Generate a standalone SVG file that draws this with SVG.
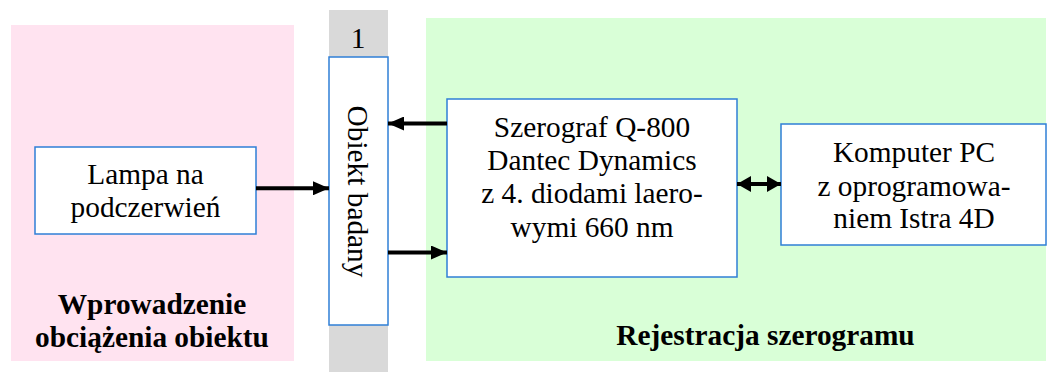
<svg xmlns="http://www.w3.org/2000/svg" width="1048" height="372" viewBox="0 0 1048 372">
<defs>
<style>
.t{font-family:"Liberation Serif","Times New Roman",serif;font-size:29.33px;fill:#000;text-anchor:middle}
.b{font-weight:bold}
.box{fill:#fff;stroke:#2F7FD6;stroke-width:1.5}
.ln{stroke:#000;stroke-width:4;fill:none}
</style>
<marker id="ah" viewBox="0 0 16 14" refX="16" refY="7" markerWidth="16" markerHeight="14" markerUnits="userSpaceOnUse" orient="auto-start-reverse">
<path d="M0,0 L16,7 L0,14 Z" fill="#000"/>
</marker>
<marker id="ah2" viewBox="0 0 14 16" refX="14" refY="8" markerWidth="14" markerHeight="16" markerUnits="userSpaceOnUse" orient="auto-start-reverse">
<path d="M0,0 L14,8 L0,16 Z" fill="#000"/>
</marker>
</defs>
<rect width="1048" height="372" fill="#fff"/>
<g id="zone-left">
<rect x="11" y="25" width="283" height="336" fill="#FFE3F0"/>
<text class="t b" x="152" y="314">Wprowadzenie</text>
<text class="t b" x="152" y="347">obciążenia obiektu</text>
</g>
<g id="zone-right">
<rect x="426" y="18" width="620" height="343" fill="#D9FFD7"/>
<text class="t b" x="765.5" y="345">Rejestracja szerogramu</text>
</g>
<g id="strip">
<rect x="329" y="10" width="59" height="362" fill="#D9D9D9"/>
<text class="t" x="358" y="47.5">1</text>
</g>
<g id="obiekt">
<rect class="box" x="329" y="57" width="59" height="268"/>
<text class="t" transform="translate(348,191.5) rotate(90)" x="0" y="0">Obiekt badany</text>
</g>
<g id="lampa">
<rect class="box" x="35" y="147" width="221" height="87"/>
<text class="t" x="145.5" y="184">Lampa na</text>
<text class="t" x="145.5" y="217">podczerwień</text>
</g>
<g id="szerograf">
<rect class="box" x="447" y="99" width="290" height="178"/>
<text class="t" x="592" y="136.5">Szerograf Q-800</text>
<text class="t" x="592" y="170">Dantec Dynamics</text>
<text class="t" x="592" y="203">z 4. diodami laero-</text>
<text class="t" x="592" y="236.5">wymi 660 nm</text>
</g>
<g id="komputer">
<rect class="box" x="781" y="124" width="265" height="121"/>
<text class="t" x="914" y="161.5">Komputer PC</text>
<text class="t" x="914" y="196">z oprogramowa-</text>
<text class="t" x="914" y="228">niem Istra 4D</text>
</g>
<g id="connectors">
<line class="ln" x1="256" y1="188.3" x2="329" y2="188.3" marker-end="url(#ah)"/>
<line class="ln" x1="447" y1="123.5" x2="388" y2="123.5" marker-end="url(#ah)"/>
<line class="ln" x1="388" y1="252.5" x2="447" y2="252.5" marker-end="url(#ah)"/>
<line class="ln" x1="737" y1="184" x2="781" y2="184" marker-start="url(#ah2)" marker-end="url(#ah2)"/>
</g>
</svg>
